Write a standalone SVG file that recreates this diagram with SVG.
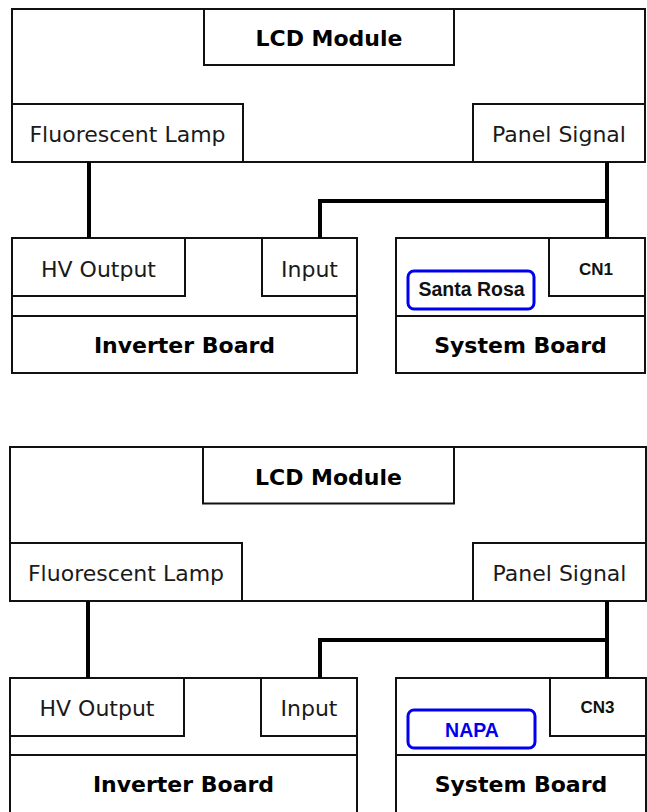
<svg xmlns="http://www.w3.org/2000/svg" width="647" height="812" viewBox="0 0 647 812">
<style>
.box{fill:#fff;stroke:#111;stroke-width:2}
.sep{stroke:#111;stroke-width:2;fill:none}
.wire{stroke:#000;stroke-width:4;fill:none;stroke-linejoin:miter}
.chip{fill:#fff;stroke:#0000ee;stroke-width:3}
.t{font-family:"DejaVu Sans",Verdana,sans-serif;font-size:22px;fill:#1a1a1a;text-anchor:middle}
.b{font-family:"DejaVu Sans",Verdana,sans-serif;font-size:22px;font-weight:bold;fill:#000;text-anchor:middle}
.cn{font-family:"Liberation Sans",Arial,sans-serif;font-size:17px;font-weight:bold;fill:#111;text-anchor:middle}
.chipt{font-family:"Liberation Sans",Arial,sans-serif;font-size:19.5px;font-weight:bold;text-anchor:middle}
</style>
<rect width="647" height="812" fill="#fff"/>

<!-- ===== Top diagram ===== -->
<g id="lcd-module-1">
  <rect class="box" x="12" y="9" width="633" height="153"/>
  <rect class="box" x="204" y="9" width="250" height="56"/>
  <text class="b" x="329" y="46">LCD Module</text>
</g>
<g id="fluorescent-lamp-1">
  <rect class="box" x="12" y="104" width="231" height="58"/>
  <text class="t" x="127.5" y="142">Fluorescent Lamp</text>
</g>
<g id="panel-signal-1">
  <rect class="box" x="473" y="104" width="172" height="58"/>
  <text class="t" x="559" y="142">Panel Signal</text>
</g>
<g id="inverter-board-1">
  <rect class="box" x="12" y="238" width="345" height="135"/>
  <line class="sep" x1="12" y1="316" x2="357" y2="316"/>
  <text class="b" x="184.5" y="353">Inverter Board</text>
</g>
<g id="hv-output-1">
  <rect class="box" x="12" y="238" width="173" height="58"/>
  <text class="t" x="98.5" y="277">HV Output</text>
</g>
<g id="input-1">
  <rect class="box" x="262" y="238" width="95" height="58"/>
  <text class="t" x="309.5" y="277">Input</text>
</g>
<g id="system-board-1">
  <rect class="box" x="396" y="238" width="249" height="135"/>
  <line class="sep" x1="396" y1="316" x2="645" y2="316"/>
  <text class="b" x="520.5" y="353">System Board</text>
</g>
<g id="cn1">
  <rect class="box" x="549" y="238" width="96" height="58"/>
  <text class="cn" x="596" y="274.5">CN1</text>
</g>
<g id="santa-rosa">
  <rect class="chip" x="408" y="271" width="126" height="38" rx="6"/>
  <text class="chipt" x="471.5" y="296" fill="#111">Santa Rosa</text>
</g>

<!-- ===== Bottom diagram ===== -->
<g id="lcd-module-2">
  <rect class="box" x="10" y="447" width="636" height="154"/>
  <rect class="box" x="203" y="447" width="251" height="56.5"/>
  <text class="b" x="328.5" y="484.5">LCD Module</text>
</g>
<g id="fluorescent-lamp-2">
  <rect class="box" x="10" y="543" width="232" height="58"/>
  <text class="t" x="126" y="581">Fluorescent Lamp</text>
</g>
<g id="panel-signal-2">
  <rect class="box" x="473" y="543" width="173" height="58"/>
  <text class="t" x="559.5" y="581">Panel Signal</text>
</g>
<g id="inverter-board-2">
  <rect class="box" x="10" y="678" width="347" height="136"/>
  <line class="sep" x1="10" y1="755" x2="357" y2="755"/>
  <text class="b" x="183.5" y="792">Inverter Board</text>
</g>
<g id="hv-output-2">
  <rect class="box" x="10" y="678" width="174" height="58"/>
  <text class="t" x="97" y="715.5">HV Output</text>
</g>
<g id="input-2">
  <rect class="box" x="261" y="678" width="96" height="58"/>
  <text class="t" x="309" y="715.5">Input</text>
</g>
<g id="system-board-2">
  <rect class="box" x="396" y="678" width="250" height="136"/>
  <line class="sep" x1="396" y1="755" x2="646" y2="755"/>
  <text class="b" x="521" y="792">System Board</text>
</g>
<g id="cn3">
  <rect class="box" x="550" y="678" width="96" height="58"/>
  <text class="cn" x="597.5" y="712.5">CN3</text>
</g>
<g id="napa">
  <rect class="chip" x="408" y="710" width="127" height="38" rx="6"/>
  <text class="chipt" x="472" y="737" fill="#0000ee">NAPA</text>
</g>

<!-- ===== Connectors ===== -->
<g id="connectors">
  <line class="wire" x1="89" y1="162" x2="89" y2="238"/>
  <polyline class="wire" points="607,162 607,201 320,201 320,238"/>
  <line class="wire" x1="607" y1="201" x2="607" y2="238"/>
  <line class="wire" x1="88" y1="601" x2="88" y2="678"/>
  <polyline class="wire" points="607,601 607,640 320,640 320,678"/>
  <line class="wire" x1="607" y1="640" x2="607" y2="678"/>
</g>
</svg>
